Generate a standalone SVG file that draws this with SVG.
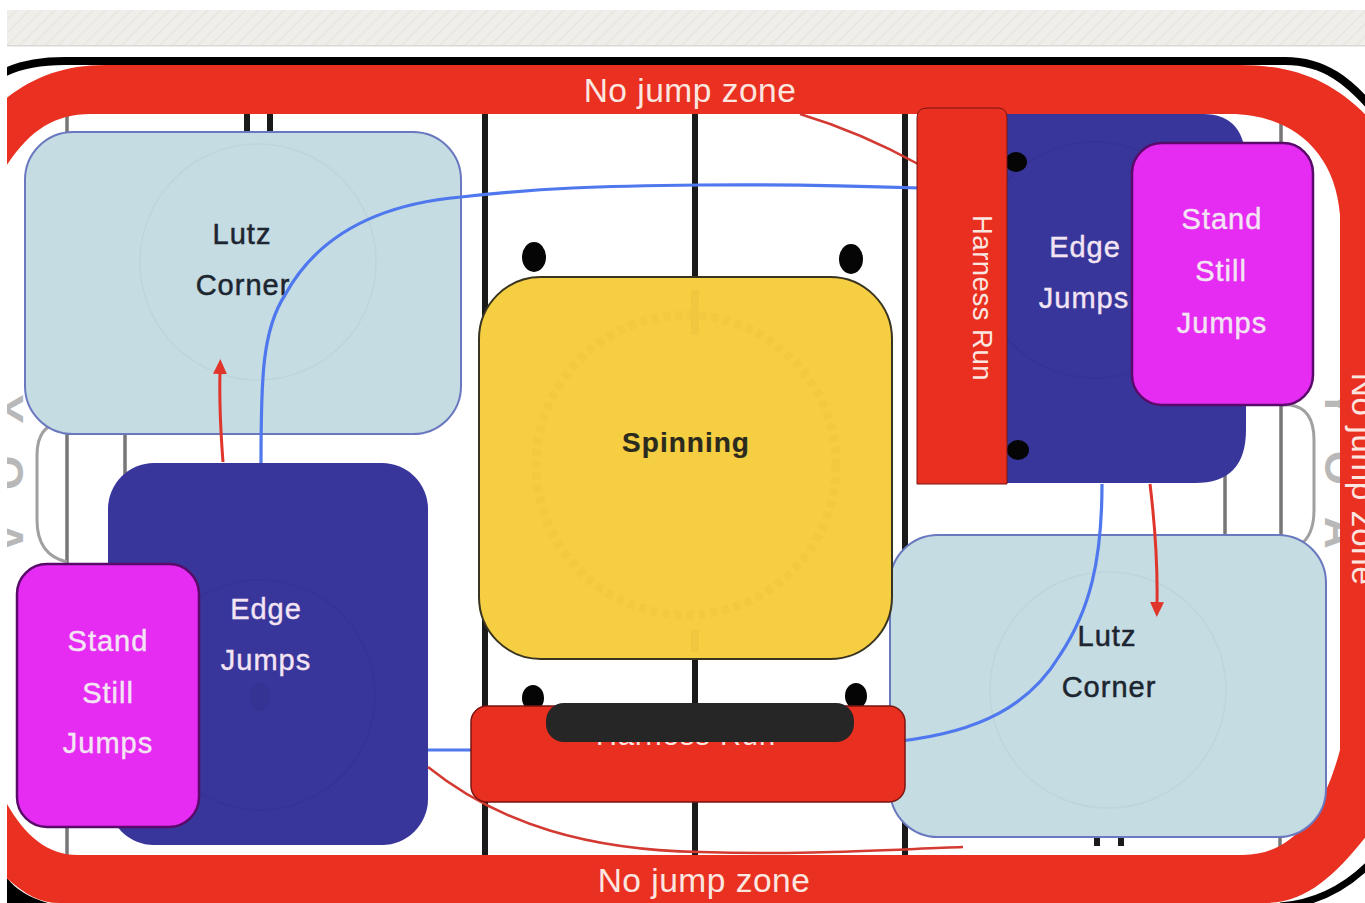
<svg xmlns="http://www.w3.org/2000/svg" width="1365" height="903" viewBox="0 0 1365 903">
<style>
text{font-family:"Liberation Sans",Arial,sans-serif;font-size:29px;text-anchor:middle;letter-spacing:1px}
.w{fill:#f3e4f3;stroke:#f3e4f3;stroke-width:.4}
.d{fill:#1c2530;stroke:#1c2530;stroke-width:.5}
.z{font-size:33.500px;fill:#fbe6e0;letter-spacing:.5px}
.r{fill:#fbe6e0;font-size:27.500px;letter-spacing:.5px}
.gt{fill:#b8b8b8;font-size:44px;letter-spacing:32px;font-weight:700}
.bl{fill:#c4dce2;stroke:#6a78c0;stroke-width:2}
.nv{fill:#38369a}
.mg{fill:#e62cf2;stroke:#5a0a6a;stroke-width:2.5}
.rd{fill:#e92f20;stroke:#7a1510;stroke-width:1.5}
.k{stroke:#1a1a1a;stroke-width:6;fill:none}
.g{stroke:#777;stroke-width:3.500;fill:none}
.g2{stroke:#a0a0a0;stroke-width:3;fill:none}
.cb{fill:none;stroke:#4f78ee;stroke-width:3.200}
.cr{fill:none;stroke:#e0352b;stroke-width:3}
.th{fill:none;stroke:#d23a32;stroke-width:2.500}
.fa{fill:none;stroke:#bdd5db;stroke-width:1.500}
.fb{fill:none;stroke:#353393;stroke-width:1.500}
.fy{fill:none;stroke:#f2ca3f;stroke-width:9;stroke-dasharray:7 5}
</style>
<defs>
<clipPath id="c"><rect x="7" y="50" width="1358" height="853"/></clipPath>
<pattern id="h" width="9" height="9" patternUnits="userSpaceOnUse" patternTransform="rotate(45)"><rect width="9" height="9" fill="#efeeea"/><rect width="2" height="9" fill="#e8e7e1"/></pattern>
<marker id="a" markerWidth="16" markerHeight="14" refX="2" refY="7" orient="auto" markerUnits="userSpaceOnUse"><path d="M0 0L15 7L0 14Z" fill="#e0352b"/></marker>
</defs>
<rect width="1365" height="903" fill="#fff"/>
<rect x="7" y="10" width="1358" height="35" fill="url(#h)"/>
<rect x="7" y="45" width="1358" height="1.500" fill="#d8d8d4"/>
<g clip-path="url(#c)">
<g id="rink">
<path fill="none" stroke="#000" stroke-width="8" d="M-5 78Q20 61 65 61H1285C1325 61 1350 82 1375 112"/>
<path fill="none" stroke="#000" stroke-width="7" d="M1375 858C1350 885 1320 903 1280 906"/>
<path fill="#000" d="M7 878Q20 895 48 903H7Z"/>
<path class="k" d="M485 110V860M695 110V860M905 110V860M247 110V135M270 110V135M1097 830V846M1121 830V846"/>
<path class="g" d="M67 110V860M125 430V490M1225 470V540M1281 80V150M1281 400V540M1280 830V860"/>
<path class="g2" d="M67 422H62Q37 425 37 455V520Q37 555 67 562M1283 405H1290Q1314 408 1314 440V510Q1314 535 1300 545"/>
<text class="gt" transform="rotate(90 -8 490)" x="-8" y="490">YOA</text>
<text class="gt" transform="rotate(90 1325 485)" x="1325" y="485">YOA</text>
</g>
<path id="zone" fill-rule="evenodd" fill="#e93021" d="M-5 108C25 80 60 65 105 65H1240C1300 65 1340 85 1375 125V825C1340 870 1310 903 1265 903H60C35 903 20 890 -5 868ZM90 114C50 114 22 135 -5 185V780C15 825 40 855 78 855H1243C1285 855 1320 825 1340 750V215C1335 150 1290 114 1230 114Z"/>
</g>
<g id="lutz-tl"><rect class="bl" x="25" y="132" width="436" height="302" rx="48"/><circle class="fa" cx="258" cy="262" r="118"/><text class="d" x="242" y="244">Lutz</text><text class="d" x="243" y="295">Corner</text></g>
<g id="lutz-br"><rect class="bl" x="890" y="535" width="436" height="302" rx="48"/><circle class="fa" cx="1108" cy="690" r="118"/></g>
<g id="edge-bl"><rect class="nv" x="108" y="463" width="320" height="382" rx="46"/><circle class="fb" cx="260" cy="695" r="115"/><ellipse cx="260" cy="697" rx="10" ry="14" fill="#353393"/></g>
<g id="edge-tr"><path class="nv" d="M1000 114H1203Q1246 114 1246 165V430Q1246 483 1195 483H1000Z"/><circle class="fb" cx="1095" cy="260" r="118"/></g>
<g id="pucks" fill="#050505"><ellipse cx="534" cy="257" rx="12" ry="15"/><ellipse cx="851" cy="259" rx="12" ry="15"/><ellipse cx="533" cy="698" rx="11" ry="13"/><ellipse cx="856" cy="696" rx="11" ry="13"/><ellipse cx="1016" cy="162" rx="11" ry="10"/><ellipse cx="1018" cy="450" rx="11" ry="10"/></g>
<g id="connectors">
<path class="th" d="M800 114Q860 132 920 165"/>
<path class="cb" d="M261 463C261 380 262 330 285 295C315 240 370 205 461 197C540 188 600 186 700 185C800 184 860 186 920 188"/>
<path class="cr" d="M223 462Q219 410 220 372" marker-end="url(#a)"/>
<path class="cb" d="M428 750H472"/>
<path class="th" d="M428 767C500 825 590 850 700 852C800 855 880 850 963 847"/>
<path class="cb" d="M1102 484C1102 560 1090 610 1060 655C1030 705 980 732 900 741"/>
<path class="cr" d="M1150 484Q1158 550 1157 604" marker-end="url(#a)"/>
</g>
<g id="spinning"><rect x="479" y="277" width="413" height="382" rx="62" fill="#f6ce42" stroke="#3a3520" stroke-width="2"/><circle class="fy" cx="686" cy="465" r="150"/><path stroke="#f0c840" stroke-width="8" d="M695 290V335M695 630V652"/><text class="d" x="686" y="452" style="font-weight:700;font-size:28px;stroke-width:.2;fill:#2b2a1e;stroke:#2b2a1e">Spinning</text></g>
<g id="harness-bottom"><rect class="rd" x="471" y="706" width="434" height="96" rx="16"/><text class="r" x="686" y="745" style="font-size:29px;letter-spacing:1px">Harness Run</text><rect x="546" y="703" width="308" height="39" rx="18" fill="#262626"/></g>
<g id="harness-top"><path fill="#e92f20" stroke="#7a1510" stroke-width="1" d="M917 118Q917 108 927 108H998Q1007 108 1007 118V484H917Z"/><text class="r" transform="rotate(90 973 298)" x="973" y="298">Harness Run</text></g>
<g id="edge-labels"><text class="w" x="1085" y="257">Edge</text><text class="w" x="1084" y="308">Jumps</text><text class="w" x="266" y="619">Edge</text><text class="w" x="266" y="670">Jumps</text></g>
<g id="lutz-br-label"><text class="d" x="1107" y="646">Lutz</text><text class="d" x="1109" y="697">Corner</text></g>
<g id="stand-tr"><rect class="mg" x="1132" y="143" width="181" height="262" rx="30"/><text class="w" x="1222" y="229">Stand</text><text class="w" x="1221" y="281">Still</text><text class="w" x="1222" y="333">Jumps</text></g>
<g id="stand-bl"><rect class="mg" x="17" y="564" width="182" height="263" rx="30"/><text class="w" x="108" y="651">Stand</text><text class="w" x="108" y="703">Still</text><text class="w" x="108" y="753">Jumps</text></g>
<g id="labels"><text class="z" x="690" y="102">No jump zone</text><text class="z" x="704" y="892">No jump zone</text><text class="z" transform="rotate(90 1352 479)" x="1352" y="479">No jump zone</text></g>
</svg>
